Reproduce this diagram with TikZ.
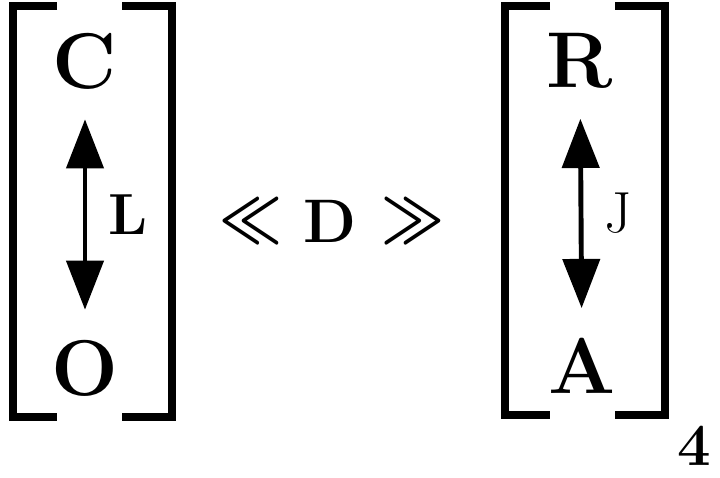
\documentclass[tikz,border=0pt]{standalone}
\usepackage{amsmath}
\usepackage{amssymb}
\usepackage{bm}
\usetikzlibrary{arrows.meta}

\tikzset{
  bigletter/.style={font=\fontsize{45}{50}\selectfont\bfseries, inner sep=0pt},
  sidelabel/.style={font=\fontsize{33}{36}\selectfont, inner sep=0pt},
  chevron/.style={inner sep=0pt, font=\fontsize{35}{40}\selectfont},
  bracketline/.style={line width=4.5pt},
  dblarrow/.style={line width=2.8pt, {Triangle[length=28pt,width=21pt]}-{Triangle[length=28pt,width=21pt]}, shorten <=17pt, shorten >=17pt}
}

\begin{document}
\begin{tikzpicture}[x=0.02cm,y=-0.02cm]
\useasboundingbox (0,0) rectangle (720,477);

% left brackets
\draw[bracketline] (57,6) -- (13,6) -- (13,417) -- (57,417);
\draw[bracketline] (122,6) -- (172,6) -- (172,417) -- (122,417);

% right brackets
\draw[bracketline] (550,6) -- (505,6) -- (505,415) -- (550,415);
\draw[bracketline] (615,6) -- (665,6) -- (665,415) -- (615,415);

% letters
\node[bigletter] (C) at (85,61) {C};
\node[bigletter] (O) at (85,368) {O};
\node[bigletter] (R) at (580,61) {R};
\node[bigletter] (A) at (582,366) {A};

% arrows
\draw[dblarrow] (C) -- (O) node[midway, right=12pt, sidelabel, font=\fontsize{33}{36}\selectfont\bfseries] (L) {L};
\draw[dblarrow] (R) -- (A) node[midway, right=12pt, sidelabel] (J) {J};

% middle relation
\node[font=\fontsize{35}{40}\selectfont\bfseries, inner sep=0pt] (D) at (330,221) {D};
\node[chevron] (ll) at (251,221) {\scalebox{1.25}[1.5]{$\bm{\ll}$}};
\node[chevron] (gg) at (413,221) {\scalebox{1.25}[1.5]{$\bm{\gg}$}};

% index
\node[font=\fontsize{34}{38}\selectfont\bfseries, inner sep=0pt] (four) at (694,446) {4};
\end{tikzpicture}
\end{document}
